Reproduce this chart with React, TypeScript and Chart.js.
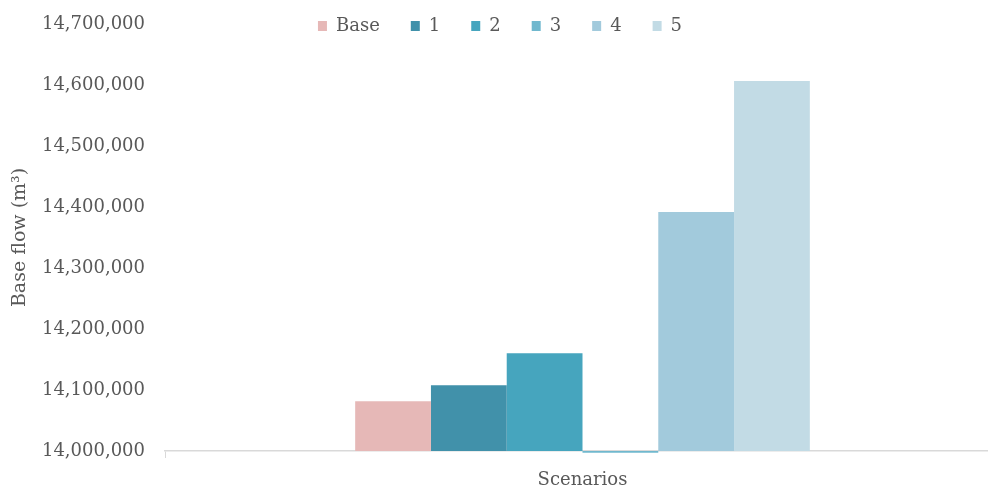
import React, { useEffect, useRef } from 'react';
import { Chart, registerables } from 'chart.js';

Chart.register(...registerables);

const categories: string[] = ['Scenarios'];
const seriesNames: string[] = ['Base', '1', '2', '3', '4', '5'];
const seriesValues: number[] = [14081500, 14107800, 14160300, 13997000, 14391600, 14606500];
const seriesColors: string[] = ['#E6B8B7', '#4191AA', '#46A5BE', '#70B8CE', '#A2CADC', '#C2DBE5'];
const yMin = 14000000;
const yMax = 14700000;
const yStep = 100000;
const yTitle = 'Base flow (m³)';

const FONT = "'DejaVu Serif', serif";
const TEXT = '#595959';
const AXIS = '#D9D9D9';

const legendOffset = {
  id: 'legendOffset',
  afterLayout(chart: any) {
    const lg = chart.legend;
    if (lg) {
      const pad = lg.options.labels.padding;
      lg.top = 26 - 9 - pad;
      lg.height = 80;
      lg.bottom = lg.top + 80;
    }
  },
};

export default function App() {
  const ref = useRef<HTMLCanvasElement | null>(null);
  useEffect(() => {
    document.body.style.margin = '0';
    const canvas = ref.current;
    if (!canvas) return;
    const chart = new Chart(canvas, {
      type: 'bar',
      data: {
        labels: categories,
        datasets: seriesNames.map((name, i) => ({
          label: name,
          data: [[yMin, seriesValues[i]]] as any,
          backgroundColor: seriesColors[i],
          borderWidth: 0,
          clip: false as any,
          categoryPercentage: 0.5445,
          barPercentage: 1,
        })),
      },
      options: {
        responsive: false,
        animation: false,
        devicePixelRatio: 1,
        layout: { padding: { top: 23, left: 0, right: 0, bottom: 0 } },
        plugins: {
          legend: {
            display: true,
            position: 'top',
            maxHeight: 1,
            labels: {
              boxWidth: 9,
              boxHeight: 10,
              padding: 31,
              color: TEXT,
              font: { family: FONT, size: 18 },
            },
          },
          tooltip: { enabled: false },
        },
        scales: {
          x: {
            grid: {
              display: true,
              drawOnChartArea: false,
              drawTicks: true,
              tickLength: 7,
              offset: true,
              color: AXIS,
              lineWidth: 1,
            },
            border: { display: true, color: AXIS, width: 1.5 },
            ticks: {
              color: TEXT,
              padding: 12,
              font: { family: FONT, size: 18 },
            },
            afterFit(scale: any) {
              scale.height = 40;
              scale.paddingLeft = 0;
              scale.paddingRight = 0;
            },
          },
          y: {
            min: yMin,
            max: yMax,
            grid: { display: false, drawTicks: false },
            border: { display: false },
            ticks: {
              stepSize: yStep,
              padding: 20,
              color: TEXT,
              font: { family: FONT, size: 18 },
              callback: (v: any) => Number(v).toLocaleString('en-US'),
            },
            title: {
              display: true,
              text: yTitle,
              color: TEXT,
              font: { family: FONT, size: 19 },
              padding: { top: 9, bottom: 9 },
            },
            afterFit(scale: any) {
              scale.width = 165;
              scale.paddingTop = 0;
              scale.paddingBottom = 0;
            },
          },
        },
      },
      plugins: [legendOffset],
    });
    return () => chart.destroy();
  }, []);
  return (
    <div style={{ width: 988, height: 491, overflow: 'hidden', position: 'relative', background: '#fff' }}>
      <canvas ref={ref} width={1000} height={491} style={{ display: 'block' }} />
    </div>
  );
}
